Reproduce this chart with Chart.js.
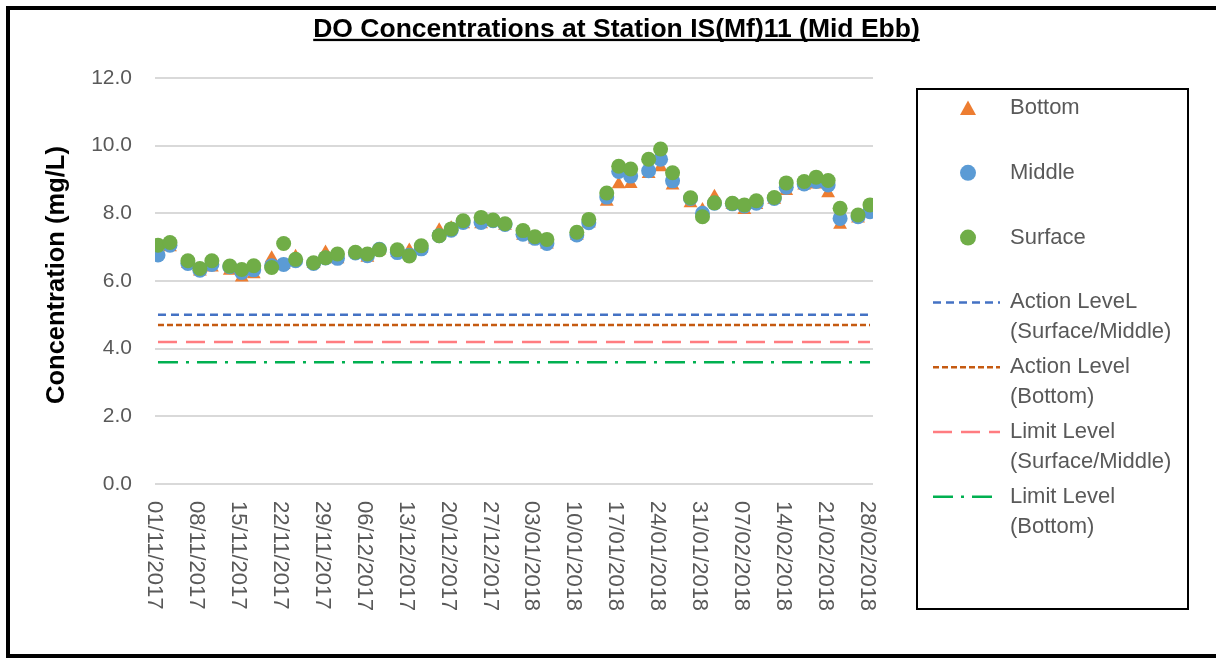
<!DOCTYPE html>
<html><head><meta charset="utf-8">
<script src="https://cdn.jsdelivr.net/npm/chart.js"></script>
<style>html,body{margin:0;padding:0;background:#fff;}canvas{display:block;}</style>
</head><body>
<canvas id="c" width="1216" height="658"></canvas>
<script>
// ---------- data ----------
const chartTitle = 'DO Concentrations at Station IS(Mf)11 (Mid Ebb)';
const yAxisTitle = 'Concentration (mg/L)';
const seriesNames = ['Bottom', 'Middle', 'Surface'];
const levelNames = ['Action LeveL (Surface/Middle)', 'Action Level (Bottom)', 'Limit Level (Surface/Middle)', 'Limit Level (Bottom)'];
const levelValues = [5.0, 4.7, 4.2, 3.6];
const sampleDates = [
  '2017-11-01','2017-11-03','2017-11-06','2017-11-08','2017-11-10','2017-11-13','2017-11-15','2017-11-17',
  '2017-11-20','2017-11-22','2017-11-24','2017-11-27','2017-11-29','2017-12-01','2017-12-04','2017-12-06',
  '2017-12-08','2017-12-11','2017-12-13','2017-12-15','2017-12-18','2017-12-20','2017-12-22','2017-12-25',
  '2017-12-27','2017-12-29','2018-01-01','2018-01-03','2018-01-05','2018-01-10','2018-01-12','2018-01-15',
  '2018-01-17','2018-01-19','2018-01-22','2018-01-24','2018-01-26','2018-01-29','2018-01-31','2018-02-02',
  '2018-02-05','2018-02-07','2018-02-09','2018-02-12','2018-02-14','2018-02-17','2018-02-19','2018-02-21',
  '2018-02-23','2018-02-26','2018-02-28'];
const bottomDO = [6.8,7.0,6.5,6.28,6.4,6.3,6.1,6.2,6.67,6.47,6.72,6.5,6.84,6.64,6.83,6.69,6.9,6.83,6.9,6.95,
  7.5,7.56,7.68,7.68,7.75,7.63,7.34,7.23,7.08,7.34,7.7,8.34,8.86,8.87,9.16,9.36,8.82,8.3,8.1,8.49,
  8.25,8.1,8.25,8.4,8.66,8.82,8.85,8.59,7.66,7.85,8.0];
const middleDO = [6.77,7.06,6.52,6.32,6.49,6.42,6.25,6.33,6.45,6.49,6.6,6.52,6.68,6.67,6.83,6.75,6.94,6.84,6.76,6.95,
  7.34,7.5,7.73,7.73,7.78,7.67,7.38,7.26,7.11,7.36,7.72,8.48,9.24,9.1,9.26,9.6,8.96,8.44,8.0,8.3,
  8.28,8.22,8.3,8.44,8.77,8.87,8.94,8.84,7.85,7.9,8.05];
const surfaceDO = [7.06,7.14,6.6,6.37,6.6,6.44,6.34,6.45,6.4,7.11,6.64,6.54,6.69,6.8,6.85,6.8,6.92,6.92,6.74,7.04,
  7.34,7.54,7.78,7.88,7.8,7.69,7.49,7.31,7.23,7.44,7.82,8.6,9.39,9.31,9.6,9.9,9.2,8.46,7.9,8.31,
  8.3,8.25,8.37,8.47,8.9,8.94,9.07,8.97,8.15,7.95,8.25];
const xTickLabels = ['01/11/2017','08/11/2017','15/11/2017','22/11/2017','29/11/2017','06/12/2017','13/12/2017',
  '20/12/2017','27/12/2017','03/01/2018','10/01/2018','17/01/2018','24/01/2018','31/01/2018','07/02/2018',
  '14/02/2018','21/02/2018','28/02/2018'];
const yMin = 0, yMax = 12, yStep = 2;

// ---------- helpers ----------
const ORIGIN = Date.UTC(2017, 10, 1);
const dayOfIso = s => { const [y,m,d] = s.split('-').map(Number); return (Date.UTC(y,m-1,d) - ORIGIN) / 86400000; };
const dayOfDmy = s => { const [d,m,y] = s.split('/').map(Number); return (Date.UTC(y,m-1,d) - ORIGIN) / 86400000; };
const sampleDays = sampleDates.map(dayOfIso);
const tickDays = xTickLabels.map(dayOfDmy);
const firstDay = sampleDays[0], lastDay = sampleDays[sampleDays.length - 1];

const FONT = '"Liberation Sans", Arial, sans-serif';
const TEXT_GREY = '#595959';

const pts = arr => arr.map((v, i) => ({x: sampleDays[i], y: v}));
const levelColors = ['#4472C4', '#C55A11', '#FF7C80', '#00B050'];
const levelDashes = [[8,5],[6,3],[19,9],[20,8,3,8]];

const datasets = [
  {label: seriesNames[0], data: pts(bottomDO), showLine: false, pointStyle: 'triangle', pointRadius: 8,
   backgroundColor: '#ED7D31', borderColor: '#ED7D31', pointBorderWidth: 0, order: 2},
  {label: seriesNames[1], data: pts(middleDO), showLine: false, pointStyle: 'circle', pointRadius: 7.5,
   backgroundColor: '#5B9BD5', borderColor: '#5B9BD5', pointBorderWidth: 0, order: 1},
  {label: seriesNames[2], data: pts(surfaceDO), showLine: false, pointStyle: 'circle', pointRadius: 7.5,
   backgroundColor: '#70AD47', borderColor: '#70AD47', pointBorderWidth: 0, order: 0},
];
levelNames.forEach((name, i) => {
  datasets.push({label: name, data: [{x: firstDay, y: levelValues[i]}, {x: lastDay, y: levelValues[i]}],
    showLine: true, borderColor: levelColors[i], borderWidth: 2.5, borderDash: levelDashes[i],
    pointRadius: 0, fill: false, order: 3 + i});
});

// ---------- custom drawing ----------
const decor = {
  id: 'decor',
  beforeDraw(chart) {
    const ctx = chart.ctx;
    ctx.save(); ctx.fillStyle = '#fff'; ctx.fillRect(0, 0, chart.width, chart.height); ctx.restore();
  },
  afterDraw(chart) {
    const ctx = chart.ctx;
    ctx.save();
    // outer frame
    ctx.strokeStyle = '#000'; ctx.lineWidth = 4;
    ctx.strokeRect(8, 8, chart.width + 20, chart.height - 10);

    // title
    ctx.fillStyle = '#000';
    ctx.font = 'bold 26.5px ' + FONT;
    ctx.textBaseline = 'alphabetic'; ctx.textAlign = 'left';
    const tw = ctx.measureText(chartTitle).width;
    const tx = 616.5 - tw / 2;
    ctx.fillText(chartTitle, tx, 36.5);
    ctx.fillRect(tx, 38.8, tw, 2.3);

    // y axis title
    ctx.save();
    ctx.font = 'bold 25.5px ' + FONT;
    ctx.translate(63.5, chart.chartArea.top + (chart.chartArea.bottom - chart.chartArea.top) / 2 - 6);
    ctx.rotate(-Math.PI / 2);
    ctx.textAlign = 'center';
    ctx.fillText(yAxisTitle, 0, 0);
    ctx.restore();

    // x tick labels, rotated clockwise
    const xs = chart.scales.x;
    ctx.fillStyle = TEXT_GREY;
    ctx.font = '22px ' + FONT;
    tickDays.forEach((d, i) => {
      const px = xs.getPixelForValue(d);
      ctx.save();
      ctx.translate(px, chart.chartArea.bottom + 17);
      ctx.rotate(Math.PI / 2);
      ctx.textAlign = 'left'; ctx.textBaseline = 'alphabetic';
      ctx.fillText(xTickLabels[i], 0, 9.5);
      ctx.restore();
    });

    // legend
    const L = {x: 917, y: 89, w: 271, h: 520};
    ctx.strokeStyle = '#000'; ctx.lineWidth = 2;
    ctx.strokeRect(L.x, L.y, L.w, L.h);
    ctx.font = '22px ' + FONT;
    ctx.textBaseline = 'middle'; ctx.textAlign = 'left';
    chart.data.datasets.forEach((ds, i) => {
      const y = 108 + i * 64.8;
      if (ds.showLine) {
        ctx.save();
        ctx.strokeStyle = ds.borderColor; ctx.lineWidth = ds.borderWidth;
        ctx.setLineDash(ds.borderDash);
        ctx.beginPath(); ctx.moveTo(933, y); ctx.lineTo(1000, y); ctx.stroke();
        ctx.restore();
      } else {
        ctx.fillStyle = ds.backgroundColor;
        ctx.beginPath();
        if (ds.pointStyle === 'triangle') {
          ctx.moveTo(968, y - 7.5); ctx.lineTo(976, y + 7); ctx.lineTo(960, y + 7); ctx.closePath();
        } else {
          ctx.arc(968, y, 8, 0, Math.PI * 2);
        }
        ctx.fill();
      }
      ctx.fillStyle = TEXT_GREY;
      const k = ds.label.indexOf(' (');
      const lines = k > 0 ? [ds.label.slice(0, k), ds.label.slice(k + 1)] : [ds.label];
      lines.forEach((t, j) => ctx.fillText(t, 1010, y + j * 29.7));
    });
    ctx.restore();
  }
};

new Chart(document.getElementById('c'), {
  type: 'line',
  data: {datasets},
  options: {
    responsive: false, devicePixelRatio: 1, animation: false,
    layout: {padding: {left: 0, top: 78, right: 343, bottom: 0}},
    plugins: {legend: {display: false}, tooltip: {enabled: false}, title: {display: false}},
    scales: {
      x: {type: 'linear', min: firstDay - 0.5, max: lastDay + 0.5,
          grid: {display: false}, border: {display: false}, ticks: {display: false},
          afterFit: s => { s.height = 174; }},
      y: {type: 'linear', min: yMin, max: yMax,
          ticks: {stepSize: yStep, callback: v => Number(v).toFixed(1), color: TEXT_GREY,
                  font: {family: FONT, size: 21}, padding: 23},
          grid: {color: '#D9D9D9', lineWidth: 2, drawTicks: false}, border: {display: false},
          afterFit: s => { s.width = 155; }}
    }
  },
  plugins: [decor]
});
</script>
</body></html>
